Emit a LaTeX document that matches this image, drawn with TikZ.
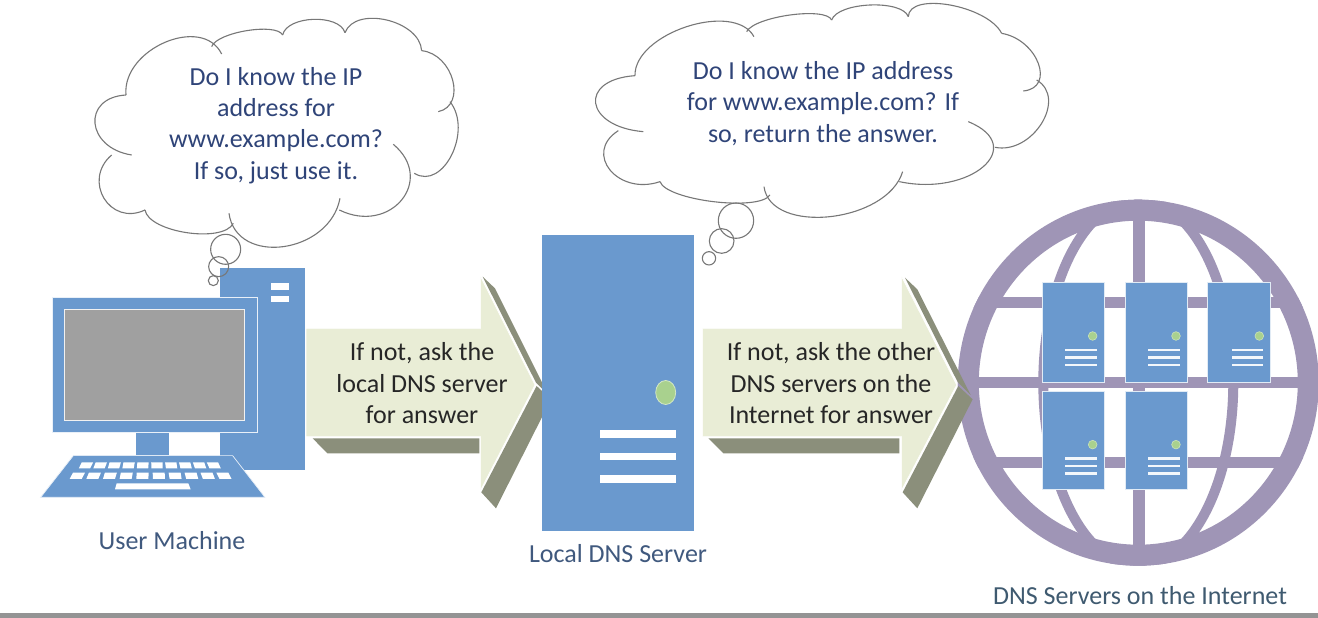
\documentclass[tikz,border=0pt]{standalone}
\usepackage{fontspec}
\setmainfont{Carlito}
\definecolor{blu}{HTML}{6A99CE}
\definecolor{scr}{HTML}{A0A0A0}
\definecolor{arr}{HTML}{E9EDD6}
\definecolor{shd}{HTML}{8B8F7B}
\definecolor{pur}{HTML}{9F95B6}
\definecolor{led}{HTML}{A9D18E}
\definecolor{navy}{HTML}{2F4478}
\definecolor{slate}{HTML}{3F5A70}
\definecolor{capblue}{HTML}{40597E}
\definecolor{cld}{HTML}{777777}
\tikzset{
 cloudline/.style={draw=cld,line width=1.1pt},
 bubble/.style={draw=cld,line width=1.1pt},
 thought/.style={text=navy,font=\fontsize{26}{31.3}\selectfont,align=center},
 arrowtext/.style={text=black!85,font=\fontsize{26}{31.5}\selectfont,align=center},
 caption/.style={text=slate,font=\fontsize{26}{30}\selectfont},
 slot/.style={fill=white,draw=none},
 blueshape/.style={fill=blu,draw=white!85!blu,line width=0.7pt},
 blockarrow/.style={fill=arr,draw=white,line width=0.6pt},
 arrowshade/.style={fill=shd,draw=none},
 serverbox/.style={fill=blu,draw=white!80!blu,line width=0.8pt},
 globeline/.style={draw=pur},
}
% one lobe of a cloud: start, point half way along, end
\newcommand{\lobe}[6]{%
 \pgfmathsetmacro{\mx}{(8*#3-#1-#5)/6}%
 \pgfmathsetmacro{\my}{(8*#4-#2-#6)/6}%
 \pgfmathsetmacro{\sx}{0.42*(#1-#5)}%
 \pgfmathsetmacro{\sy}{0.42*(#2-#6)}%
 \draw[cloudline] (#1,#2) .. controls (\mx+\sx,\my+\sy) and (\mx-\sx,\my-\sy) .. (#5,#6);%
}
% \srv{x}{y}{w}{h}{dx} in zoom units
\newcommand{\srv}[5]{%
 \draw[serverbox] (#1,#2) rectangle ++(#3,#4);
 \fill[led,draw=white!40!led,line width=0.6pt] (#1+#5+151,#2+160) circle (13);
 \foreach \d in {202,224,247}{\fill[white!92!blu] (#1+#5+68,#2+\d-4) rectangle ++(95,8);}
}
\begin{document}
\begin{tikzpicture}[x=1pt,y=-1pt]
\useasboundingbox (0,0) rectangle (1318,618);
\fill[white] (0,0) rectangle (1318,618);
\fill[black!42] (0,613) rectangle (1318,618);

% Computer
\begin{scope}[shift={(30,230)},x=0.3333pt,y=-0.3333pt]
\fill[blu] (570,113) rectangle (825,720);
\fill[white] (723,160) rectangle (778,180);
\fill[white] (723,197) rectangle (778,217);
\draw[blueshape] (67,202) rectangle (682,606);
\draw[fill=scr,draw=white!85!scr,line width=0.9pt] (103,238) rectangle (642,570);
\fill[blu] (318,610) rectangle (418,675);
\draw[blueshape] (130,677) -- (608,677) -- (705,802) -- (32,802) -- cycle;
\foreach \i in {0,...,9}{
 \pgfmathsetmacro{\c}{168+\i*42.6}
 \pgfmathsetmacro{\s}{(\c-368)*0.022}
 \fill[slot] (\c-17-\s,697) -- (\c+17-\s,697) -- (\c+17+\s,715) -- (\c-17+\s,715) -- cycle;
 \pgfmathsetmacro{\c}{142+\i*48.9}
 \pgfmathsetmacro{\s}{(\c-368)*0.022}
 \fill[slot] (\c-18-\s,728) -- (\c+18-\s,728) -- (\c+18+\s,747) -- (\c-18+\s,747) -- cycle;
}
\fill[slot] (260,760) -- (475,760) -- (482,778) -- (255,778) -- cycle;
\end{scope}

% Cloud 1
\begin{scope}[shift={(80,10)},x=0.3333pt,y=-0.3333pt]
\lobe{425}{132}{255}{97}{138}{255}
\lobe{138}{255}{45}{340}{155}{435}
\lobe{95}{435}{72}{565}{195}{600}
\lobe{195}{600}{320}{668}{460}{640}
\lobe{447}{610}{610}{710}{780}{565}
\lobe{778}{600}{965}{570}{940}{403}
\lobe{1003}{490}{1115}{435}{1110}{275}
\lobe{1075}{305}{1118}{210}{1025}{122}
\lobe{1025}{122}{920}{30}{795}{68}
\lobe{795}{68}{700}{28}{608}{75}
\lobe{608}{75}{500}{62}{395}{110}
\draw[bubble] (437,718) circle (45);
\draw[bubble] (416,770) circle (30);
\draw[bubble] (400,812) circle (15);
\end{scope}

% Cloud 2
\begin{scope}[shift={(580,10)},x=0.3333pt,y=-0.3333pt]
\lobe{522}{80}{320}{50}{165}{197}
\lobe{165}{197}{47}{280}{190}{365}
\lobe{115}{362}{90}{480}{240}{515}
\lobe{240}{515}{400}{575}{570}{555}
\lobe{552}{530}{750}{620}{968}{485}
\lobe{958}{515}{1210}{470}{1165}{335}
\lobe{1245}{412}{1385}{340}{1370}{210}
\lobe{1330}{243}{1375}{160}{1265}{70}
\lobe{1265}{70}{1110}{-15}{985}{20}
\lobe{985}{20}{870}{-15}{755}{30}
\lobe{755}{30}{630}{15}{500}{65}
\draw[bubble] (468,632) circle (53);
\draw[bubble] (425,693) circle (37);
\draw[bubble] (387,745) circle (20);
\end{scope}

% Arrow 1 (its shadow runs under the server)
\begin{scope}[shift={(290,260)},x=0.3333pt,y=-0.3333pt]
\fill[arrowshade] (68,535) -- (568,535) -- (568,580) -- (112,580) -- cycle;
\fill[arrowshade] (740,378) -- (783,418) -- (618,745) -- (574,697) -- cycle;
\fill[arrowshade] (578,50) -- (615,85) -- (775,405) -- (738,368) -- cycle;
\draw[blockarrow] (48,205) -- (572,205) -- (572,50) -- (735,375) -- (572,690) -- (572,530) -- (48,530) -- cycle;
\end{scope}
\node[arrowtext] (ask1) at (422,383.5) {If not, ask the\\local DNS server\\for answer};

% Local DNS server
\fill[blu] (542,235) rectangle (694,531);
\draw[fill=led,draw=white!50!led,line width=0.8pt] (665.7,392.5) ellipse (10 and 12);
\foreach \y in {430,452.5,475}{\fill[white] (600,\y) rectangle (675.5,\y+7.5);}

% Globe
\begin{scope}
\clip (1138.3,382.7) ellipse (180.5 and 183);
\draw[globeline,line width=11pt] (950,382.7) -- (1330,382.7);
\draw[globeline,line width=11.5pt] (950,302.7) -- (1330,302.7);
\draw[globeline,line width=11.5pt] (950,462.7) -- (1330,462.7);
\draw[globeline,line width=11.5pt] (1139,190) -- (1139,580);
\draw[globeline,line width=10pt] (1138.3,382.7) ellipse (95 and 183);
\end{scope}
\draw[globeline,line width=21pt] (1138.3,382.7) ellipse (170 and 172.5);

% Arrow 2
\begin{scope}[shift={(690,260)},x=0.3333pt,y=-0.3333pt]
\fill[arrowshade] (55,535) -- (628,535) -- (628,580) -- (100,580) -- cycle;
\fill[arrowshade] (805,378) -- (848,418) -- (682,745) -- (638,697) -- cycle;
\fill[arrowshade] (645,53) -- (682,88) -- (842,405) -- (803,366) -- cycle;
\draw[blockarrow] (38,205) -- (635,205) -- (635,50) -- (800,375) -- (635,690) -- (635,530) -- (38,530) -- cycle;
\end{scope}
\node[arrowtext] (ask2) at (831,383.5) {If not, ask the other\\DNS servers on the\\Internet for answer};

% Servers on globe
\begin{scope}[shift={(950,190)},x=0.3333pt,y=-0.3333pt]
\srv{277}{278}{185}{300}{0}
\srv{527}{278}{185}{300}{0}
\srv{772}{278}{190}{300}{5}
\srv{277}{604}{185}{294}{0}
\srv{527}{604}{185}{294}{0}
\end{scope}

% Text
\node[thought] (q1) at (276,125.5) {Do I know the IP\\address for\\www.example.com?\\If so, just use it.};
\node[thought] (q2) at (823,103.5) {Do I know the IP address\\for www.example.com? If\\so, return the answer.};
\node[caption,text=capblue] (c1) at (172,540.5) {User Machine};
\node[caption,text=capblue] (c2) at (618,553.5) {Local DNS Server};
\node[caption] (c3) at (1140,595.5) {DNS Servers on the Internet};
\end{tikzpicture}
\end{document}
